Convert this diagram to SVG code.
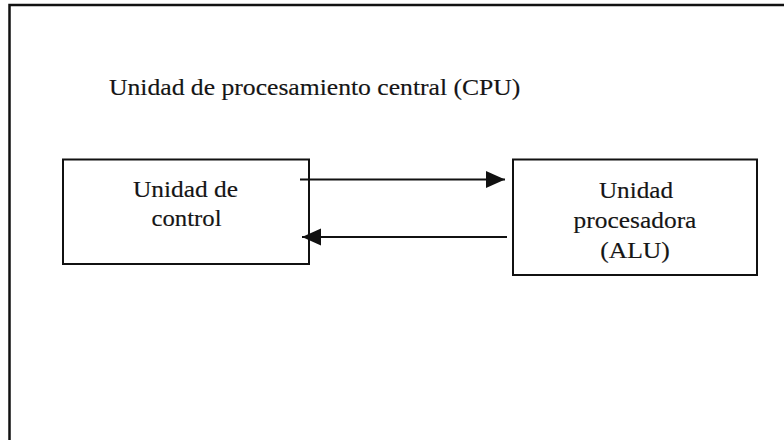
<svg xmlns="http://www.w3.org/2000/svg" width="784" height="440" viewBox="0 0 784 440">
  <style>
    .frame { fill: none; stroke: #111; stroke-width: 2.5; }
    .box { fill: #fff; stroke: #111; stroke-width: 2; }
    .lbl { font-family: "Liberation Serif", "Times New Roman", serif; font-size: 22.5px; fill: #151515; stroke: #151515; stroke-width: 0.15; }
    .mid { text-anchor: middle; }
    .link { stroke: #111; stroke-width: 2; fill: none; }
  </style>
  <defs>
    <marker id="head" markerUnits="userSpaceOnUse" markerWidth="20" markerHeight="18" refX="19" refY="8.5" orient="auto">
      <path d="M0,0 L19,8.5 L0,17 Z" fill="#111"/>
    </marker>
  </defs>
  <rect width="784" height="440" fill="#fff"/>

  <!-- CPU boundary (continues past the right and bottom edges) -->
  <g id="cpu">
    <rect class="frame" x="9.5" y="5" width="800" height="460"/>
    <text class="lbl" transform="translate(109,94.5) scale(1.14,1)">Unidad de procesamiento central (CPU)</text>
  </g>

  <g id="control-unit">
    <rect class="box" x="63" y="159.5" width="246" height="104.5"/>
    <text class="lbl mid" transform="translate(185.5,197) scale(1.13,1)">Unidad de</text>
    <text class="lbl mid" transform="translate(186.5,226) scale(1.1,1)">control</text>
  </g>

  <g id="alu">
    <rect class="box" x="513" y="159.5" width="244" height="115.5"/>
    <text class="lbl mid" transform="translate(636,198) scale(1.12,1)">Unidad</text>
    <text class="lbl mid" transform="translate(635,228) scale(1.13,1)">procesadora</text>
    <text class="lbl mid" transform="translate(635,258) scale(1.14,1)">(ALU)</text>
  </g>

  <g id="connectors">
    <line class="link" x1="300" y1="179.5" x2="505" y2="179.5" marker-end="url(#head)"/>
    <line class="link" x1="507" y1="237" x2="302" y2="237" marker-end="url(#head)"/>
  </g>
</svg>
